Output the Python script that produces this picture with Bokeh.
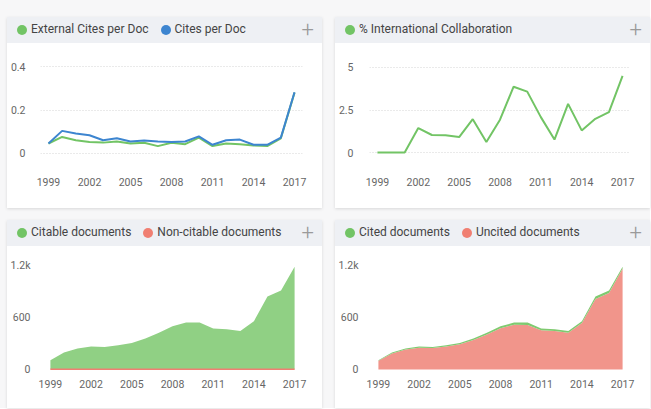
from bokeh.plotting import figure
from bokeh.layouts import column, row
from bokeh.models import Div, FixedTicker, Range1d
from bokeh.embed import file_html
from bokeh.resources import INLINE

# ---------------- data ----------------
years = list(range(1999, 2018))
x_ticks = [1999, 2002, 2005, 2008, 2011, 2014, 2017]

external_cites_per_doc = [0.046, 0.076, 0.061, 0.053, 0.050, 0.055, 0.046, 0.049, 0.034, 0.049,
                          0.043, 0.073, 0.034, 0.046, 0.043, 0.037, 0.034, 0.070, 0.280]
cites_per_doc = [0.046, 0.104, 0.092, 0.084, 0.061, 0.070, 0.055, 0.060, 0.055, 0.053,
                 0.055, 0.079, 0.040, 0.061, 0.064, 0.040, 0.040, 0.073, 0.282]
intl_collab = [0, 0, 0, 1.44, 1.03, 1.01, 0.91, 1.96, 0.62, 1.93,
               3.87, 3.58, 2.08, 0.76, 2.86, 1.30, 1.98, 2.37, 4.51]
citable_docs = [104, 192, 239, 262, 258, 277, 304, 354, 420, 497,
                539, 539, 470, 462, 443, 554, 839, 909, 1182]
non_citable_docs = [2, 3, 3, 2, 2, 3, 2, 3, 3, 2, 3, 3, 2, 3, 2, 3, 3, 2, 3]
cited_docs = [6, 10, 12, 14, 12, 14, 14, 16, 18, 22, 26, 28, 20, 22, 22, 20, 28, 30, 20]
uncited_docs = [100, 185, 230, 250, 248, 266, 292, 341, 405, 477,
                516, 514, 452, 443, 423, 537, 814, 881, 1165]

y_ticks_cites = [0, 0.2, 0.4]
y_ticks_collab = [0, 2.5, 5]
y_ticks_docs = [0, 600, 1200]
y_labels_docs = {1200: "1.2k"}

names1 = ["External Cites per Doc", "Cites per Doc"]
names2 = ["% International Collaboration"]
names3 = ["Citable documents", "Non-citable documents"]
names4 = ["Cited documents", "Uncited documents"]

# ---------------- styles ----------------
GREEN = "#72c465"
BLUE = "#3d85d0"
RED = "#f07f72"
GREEN_AREA = "#90d084"
RED_AREA = "#f1958b"
HEADER_BG = "#eef0f4"
CARD_W = 315
FONT = "Roboto"


def header(items):
    spans = "".join(
        f'<span style="display:inline-block;width:10px;height:10px;border-radius:50%;'
        f'background:{c};margin-right:4px;flex:none;"></span>'
        f'<span style="margin-right:12px;white-space:nowrap;">{t}</span>'
        for t, c in items)
    html = (f'<div style="position:relative;width:{CARD_W}px;height:26px;display:flex;'
            f'align-items:center;padding-left:10px;box-sizing:border-box;'
            f'font-family:{FONT},sans-serif;font-size:12px;color:#444;">{spans}'
            f'<span style="position:absolute;right:8px;top:0;line-height:26px;font-size:22px;'
            f'font-weight:300;color:#9a9a9a;">+</span></div>')
    return Div(text=html, width=CARD_W, height=26,
               styles={"background-color": HEADER_BG, "margin": "0", "padding": "0"})


def make_fig(height, y_range, y_ticks, top, bottom, y_standoff, x_standoff, grid):
    p = figure(width=CARD_W, height=height, output_backend="svg", toolbar_location=None,
               x_range=Range1d(1998.417, 2017.583), y_range=Range1d(*y_range),
               min_border_left=32, min_border_right=20, min_border_top=top,
               min_border_bottom=bottom)
    p.outline_line_color = None
    p.background_fill_color = "white"
    p.border_fill_color = "white"
    for ax in (p.xaxis[0], p.yaxis[0]):
        ax.axis_line_color = None
        ax.major_tick_line_color = None
        ax.minor_tick_line_color = None
        ax.major_label_text_font = FONT
        ax.major_label_text_font_size = "10.5px"
        ax.major_label_text_color = "#666666"
    p.xaxis.ticker = FixedTicker(ticks=x_ticks)
    p.xaxis.major_label_standoff = x_standoff
    p.yaxis.ticker = FixedTicker(ticks=y_ticks)
    p.yaxis.major_label_standoff = y_standoff
    p.xgrid.grid_line_color = None
    if grid:
        p.ygrid.grid_line_color = "#d4d4d4"
        p.ygrid.grid_line_dash = "1 2"
        p.ygrid.grid_line_width = 1
    else:
        p.ygrid.grid_line_color = None
    return p


def card(items, fig):
    return column(header(items), fig, spacing=0,
                  styles={"background-color": "white",
                          "box-shadow": "0 1px 3px rgba(0,0,0,0.13)"})


# Panel 1
p1 = make_fig(165, (-0.046, 0.446), y_ticks_cites, 13, 45, 9, 8, True)
p1.line(years, external_cites_per_doc, line_color=GREEN, line_width=2)
p1.line(years, cites_per_doc, line_color=BLUE, line_width=2)

# Panel 2
p2 = make_fig(165, (-0.647, 5.647), y_ticks_collab, 13, 45, 10, 8, True)
p2.line(years, intl_collab, line_color=GREEN, line_width=2)

# Panel 3
src3 = {"x": years, "nc": non_citable_docs, "c": citable_docs}
p3 = make_fig(162, (-34.6, 1315), y_ticks_docs, 9, 36, 6, 1, False)
p3.yaxis.major_label_overrides = y_labels_docs
p3.yaxis.major_label_text_baseline = "alphabetic"
p3.varea_stack(["nc", "c"], x="x", color=[RED_AREA, GREEN_AREA], source=src3)
p3.line(years, non_citable_docs, line_color=RED, line_width=1.5)

# Panel 4
src4 = {"x": years, "u": uncited_docs, "c": cited_docs}
p4 = make_fig(162, (-34.6, 1315), y_ticks_docs, 9, 36, 6, 1, False)
p4.yaxis.major_label_overrides = y_labels_docs
p4.yaxis.major_label_text_baseline = "alphabetic"
p4.varea_stack(["u", "c"], x="x", color=[RED_AREA, "#7fca70"], source=src4)

c1 = card(list(zip(names1, [GREEN, BLUE])), p1)
c2 = card(list(zip(names2, [GREEN])), p2)
c3 = card(list(zip(names3, [GREEN, RED])), p3)
c4 = card(list(zip(names4, [GREEN, RED])), p4)

layout = column(row(c1, c2, spacing=13), row(c3, c4, spacing=13), spacing=12,
                styles={"background-color": "#f7f7f8", "padding-top": "17px",
                        "padding-left": "7px"})

open("out.html", "w").write(file_html(layout, INLINE))
